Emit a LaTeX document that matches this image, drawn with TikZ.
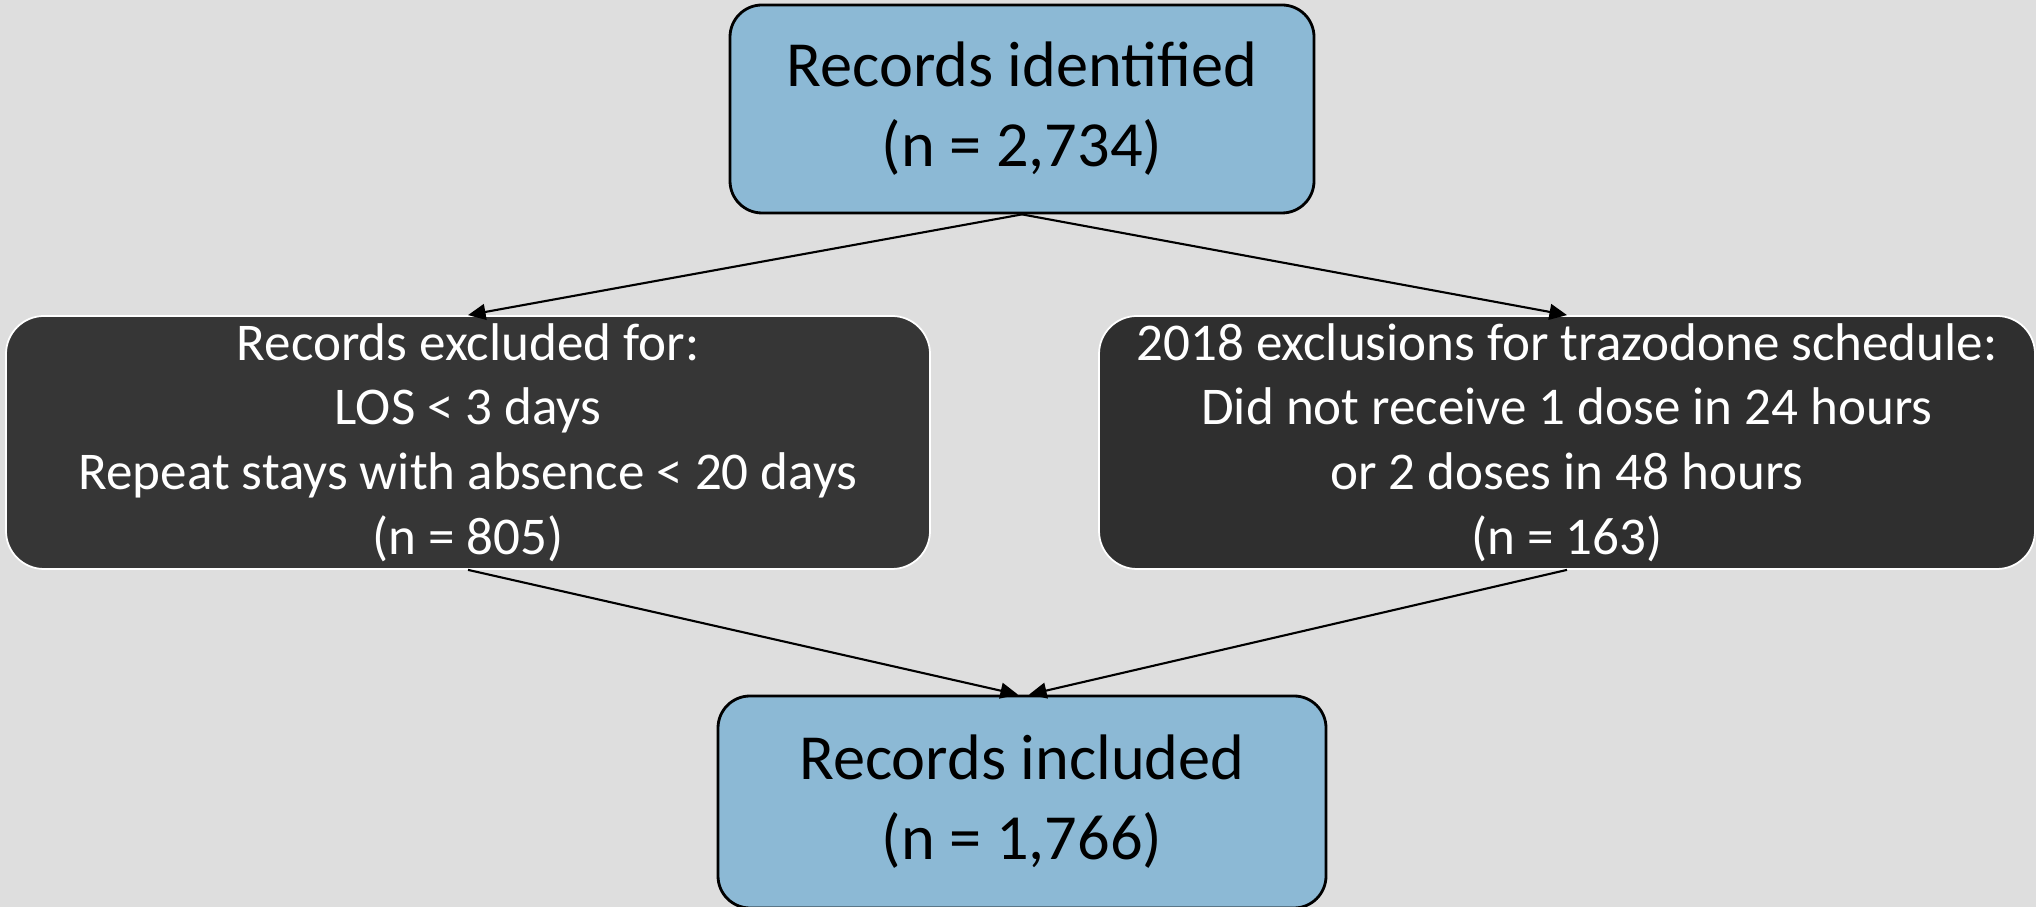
\documentclass[tikz,border=0pt]{standalone}
\usepackage{fontspec}
\setmainfont{Carlito}
\usetikzlibrary{arrows.meta}
\definecolor{bgGrey}{HTML}{DEDEDE}
\definecolor{boxBlue}{HTML}{8CB9D5}
\definecolor{boxDark}{HTML}{363636}
\definecolor{boxDarker}{HTML}{2F2F2F}
\begin{document}
\begin{tikzpicture}[
    bluebox/.style={draw=black, line width=0.8pt, fill=boxBlue, rounded corners=0.32cm,
        align=center, inner sep=0pt, text=black, font=\fontsize{18.3}{22.8}\selectfont},
    darkbox/.style={draw=white, line width=0.5pt, rounded corners=0.38cm,
        align=center, inner sep=0pt, text=white, font=\fontsize{15.1}{18.4}\selectfont},
    flow/.style={-{Triangle[length=5pt,width=4.5pt]}, line width=0.6pt}
    ]
    % background and frame
    \fill[bgGrey] (0,0) rectangle (20.36,9.07);
    \useasboundingbox (0,0) rectangle (20.36,9.07);
    \clip (0,0) rectangle (20.36,9.07);
    % boxes
    \node [bluebox, minimum width=5.84cm, minimum height=2.08cm] (ident) at (10.22,7.98)
        {Records identified\\(n = 2,734)};
    \node [darkbox, fill=boxDark, minimum width=9.24cm, minimum height=2.53cm] (excl) at (4.68,4.645)
        {Records excluded for:\\LOS < 3 days\\Repeat stays with absence < 20 days\\(n = 805)};
    \node [darkbox, fill=boxDarker, minimum width=9.36cm, minimum height=2.53cm] (sched) at (15.67,4.645)
        {2018 exclusions for trazodone schedule:\\Did not receive 1 dose in 24 hours\\or 2 doses in 48 hours\\(n = 163)};
    \node [bluebox, minimum width=6.08cm, minimum height=2.12cm] (incl) at (10.22,1.05)
        {Records included\\(n = 1,766)};
    % connectors
    \draw[flow] (ident.south) -- (excl.north);
    \draw[flow] (ident.south) -- (sched.north);
    \draw[flow] (excl.south) -- ([xshift=-0.04cm]incl.north);
    \draw[flow] (sched.south) -- ([xshift=0.07cm]incl.north);
\end{tikzpicture}
\end{document}
